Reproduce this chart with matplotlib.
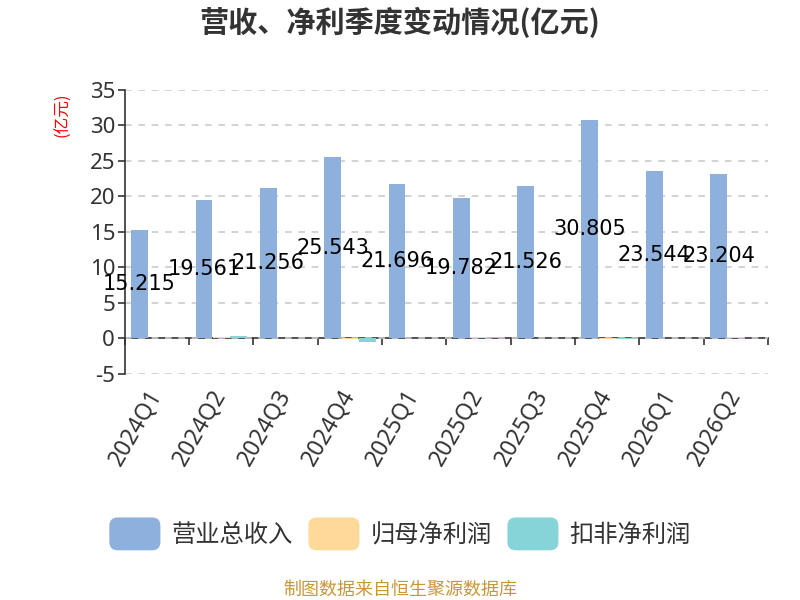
import numpy as np
import matplotlib
matplotlib.use("Agg")
import matplotlib.pyplot as plt
from matplotlib.patches import FancyBboxPatch
from matplotlib.legend_handler import HandlerPatch

plt.rcParams['font.family'] = ['Noto Sans CJK SC', 'DejaVu Sans']

quarters = ['2024Q1', '2024Q2', '2024Q3', '2024Q4', '2025Q1',
            '2025Q2', '2025Q3', '2025Q4', '2026Q1', '2026Q2']
revenue = [15.215, 19.561, 21.256, 25.543, 21.696,
           19.782, 21.526, 30.805, 23.544, 23.204]
net_profit = [0.08, 0.15, 0.05, -0.12, 0.08, 0.18, 0.05, -0.15, 0.1, 0.12]
deducted_profit = [0.05, 0.3, 0.04, -0.45, 0.06, 0.25, 0.03, -0.12, 0.08, 0.1]

series_names = ['营业总收入', '归母净利润', '扣非净利润']
colors = ['#8eb0dc', '#ffd99a', '#86d4d8']
y_ticks = [-5, 0, 5, 10, 15, 20, 25, 30, 35]


class RoundHandler(HandlerPatch):
    # rounded legend swatches
    def create_artists(self, legend, orig_handle, xdescent, ydescent,
                       width, height, fontsize, trans):
        p = FancyBboxPatch((-xdescent, -ydescent - 4), width, height + 8,
                           boxstyle="round,pad=0,rounding_size=6",
                           facecolor=orig_handle.get_facecolor(),
                           edgecolor='none', transform=trans)
        return [p]


fig = plt.figure(figsize=(8, 6), dpi=100)
ax = fig.add_axes([0.156, 0.377, 0.804, 0.473])

x = np.arange(len(quarters))
w = 0.27
handles = []
for k, vals in enumerate([revenue, net_profit, deducted_profit]):
    b = ax.bar(x + (k - 1) * w, vals, width=w - 0.01, color=colors[k],
               label=series_names[k], zorder=3)
    handles.append(b.patches[0])

for i, v in enumerate(revenue):
    ax.text(x[i] - w, v / 2, f'{v}', ha='center', va='center', fontsize=15,
            family='DejaVu Sans', color='#000000', zorder=5)

ax.set_xlim(-0.5, len(quarters) - 0.5)
ax.set_ylim(-5, 35)
ax.set_yticks(y_ticks)
ax.set_yticklabels([str(t) for t in y_ticks], fontsize=16, color='#333333',
                   family='Noto Sans')
ax.yaxis.grid(True, linestyle=(0, (4, 4)), color='#cccccc', linewidth=1.2, zorder=0)
ax.tick_params(axis='y', length=5, color='#333333', width=1.2, pad=2)

ax.set_xticks(x)
ax.set_xticklabels(quarters, rotation=60, ha='right', va='center',
                   rotation_mode='anchor', fontsize=16.5, color='#333333',
                   family='Noto Sans')
ax.tick_params(axis='x', length=0, pad=13)

for s in ['top', 'right', 'bottom']:
    ax.spines[s].set_visible(False)
ax.spines['left'].set_color('#333333')
ax.spines['left'].set_linewidth(1.2)

# x axis line sits on zero
sec = ax.secondary_xaxis(5 / 40)
sec.set_xticks(np.arange(-0.5, len(quarters), 1.0))
sec.set_xticklabels([])
sec.tick_params(axis='x', direction='out', length=5, color='#333333', width=1.2)
sec.spines['bottom'].set_color('#333333')
sec.spines['bottom'].set_linewidth(1.2)

fig.text(0.078, 0.808, '(亿元)', rotation=90, ha='center', va='center',
         fontsize=12, color='#ff0000')

fig.text(0.5, 0.962, '营收、净利季度变动情况(亿元)', ha='center', va='center',
         fontsize=21, fontweight='bold', color='#333333')

fig.legend(handles, series_names, loc='center', bbox_to_anchor=(0.5, 0.108),
           ncol=3, frameon=False, fontsize=17.5, handlelength=2.1, handleheight=1.0,
           columnspacing=0.65, handletextpad=0.45, labelcolor='#333333',
           handler_map={h: RoundHandler() for h in handles})

fig.text(0.5, 0.017, '制图数据来自恒生聚源数据库', ha='center', va='center',
         fontsize=13, color='#c9973a')

fig.savefig('out.png', dpi=100)
